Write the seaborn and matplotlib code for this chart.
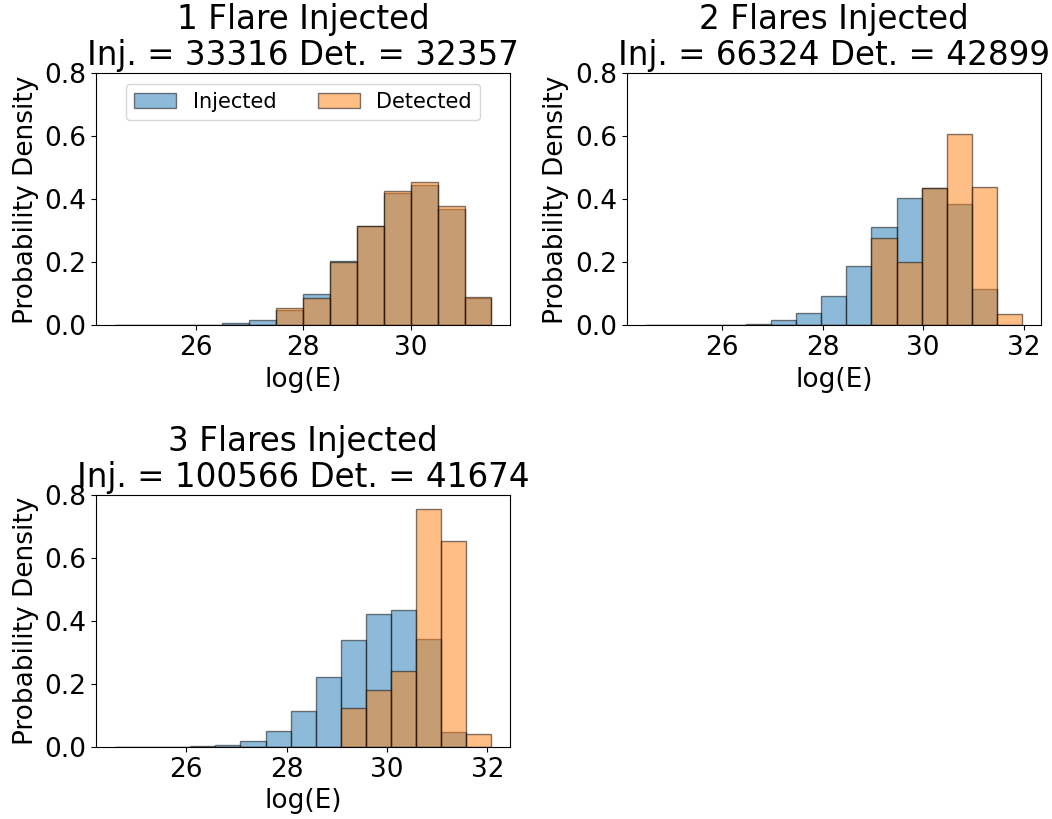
import matplotlib
matplotlib.use("Agg")
import matplotlib.pyplot as plt
from matplotlib.ticker import MultipleLocator
import numpy as np
import pandas as pd
import seaborn as sns

# ---- data ----
titles = ["1 Flare Injected\nInj. = 33316 Det. = 32357",
          "2 Flares Injected\nInj. = 66324 Det. = 42899",
          "3 Flares Injected\nInj. = 100566 Det. = 41674"]

bin_width = 0.5
first_edge = [24.50, 24.47, 24.58]

inj_1 = [0.0003, 0.0005, 0.001, 0.002, 0.007, 0.017, 0.048, 0.100,
         0.204, 0.314, 0.419, 0.446, 0.369, 0.086]
det_1 = [0.0, 0.0, 0.0, 0.0, 0.0, 0.0, 0.054, 0.086,
         0.200, 0.314, 0.425, 0.454, 0.380, 0.091]

inj_2 = [0.0003, 0.0005, 0.001, 0.002, 0.005, 0.016, 0.039, 0.094,
         0.190, 0.312, 0.403, 0.435, 0.385, 0.117, 0.0]
det_2 = [0.0, 0.0, 0.0, 0.0, 0.0, 0.0, 0.0, 0.0,
         0.0, 0.278, 0.200, 0.437, 0.606, 0.439, 0.036]

inj_3 = [0.0003, 0.0005, 0.001, 0.002, 0.006, 0.020, 0.050, 0.114,
         0.221, 0.338, 0.421, 0.434, 0.344, 0.049, 0.0]
det_3 = [0.0, 0.0, 0.0, 0.0, 0.0, 0.0, 0.0, 0.0,
         0.0, 0.123, 0.181, 0.240, 0.755, 0.654, 0.042]

injected = [inj_1, inj_2, inj_3]
detected = [det_1, det_2, det_3]
labels = ["Injected", "Detected"]
colors = ["#1f77b4", "#ff7f0e"]

fig, axes = plt.subplots(2, 2, figsize=(10.52, 8.19), dpi=100)
fig.subplots_adjust(left=0.0913, right=0.9895, bottom=0.0879, top=0.9105,
                    wspace=0.281, hspace=0.672)
axes[1, 1].remove()
panels = [axes[0, 0], axes[0, 1], axes[1, 0]]

for i, ax in enumerate(panels):
    n = len(injected[i])
    edges = first_edge[i] + bin_width * np.arange(n + 1)
    centers = edges[:-1] + bin_width / 2
    for vals, lab, col in zip([injected[i], detected[i]], labels, colors):
        df = pd.DataFrame({"logE": centers, "density": vals})
        sns.histplot(data=df, x="logE", weights="density", bins=list(edges),
                     stat="count", color=col, alpha=0.5,
                     edgecolor=(0, 0, 0, 0.5), linewidth=1.0,
                     label=lab, ax=ax)
    ax.set_ylim(0, 0.8)
    ax.set_yticks([0.0, 0.2, 0.4, 0.6, 0.8])
    ax.xaxis.set_major_locator(MultipleLocator(2))
    ax.tick_params(labelsize=19)
    ax.set_title(titles[i], fontsize=23.5, linespacing=1.1)
    ax.set_xlabel("log(E)", fontsize=19)
    ax.set_ylabel("Probability Density", fontsize=19)
    if i == 0:
        ax.legend(loc="upper center", ncol=2, fontsize=15)

fig.savefig("out.png", dpi=100)
